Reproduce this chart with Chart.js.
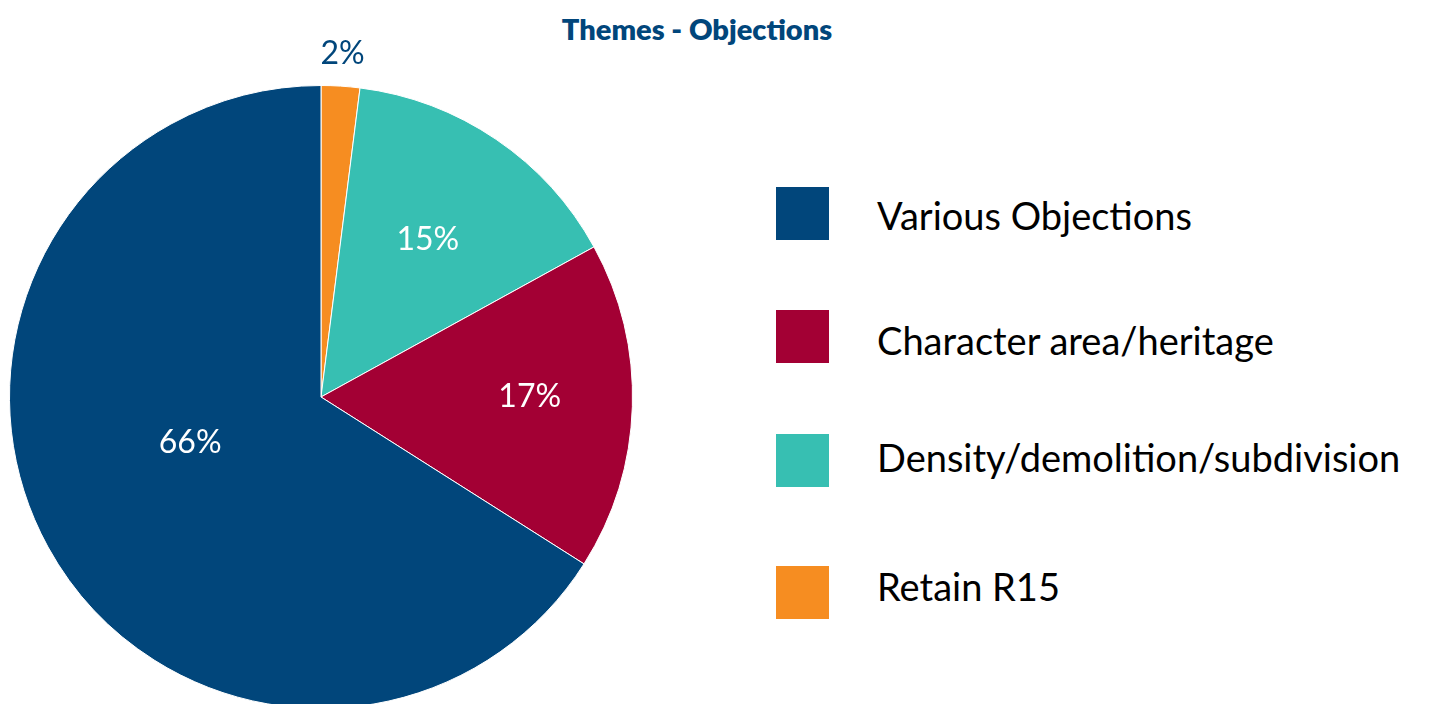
<!DOCTYPE html>
<html>
<head>
<meta charset="utf-8">
<script src="https://cdn.jsdelivr.net/npm/chart.js@4/dist/chart.umd.min.js"></script>
<style>
  html, body { margin: 0; padding: 0; background: #fff; overflow: hidden; }
  #wrap { position: relative; width: 1431px; height: 704px; overflow: hidden; font-family: Lato, "Open Sans", sans-serif; }
  #title { position: absolute; left: 0; width: 1394px; top: 11px; text-align: center; font-weight: 800; font-size: 29px; color: #01467B; }
  #chartBox { position: absolute; left: 0; top: 40px; width: 642px; height: 669px; }
  #legend { position: absolute; left: 776px; top: 0; }
  .box { position: absolute; left: 0; width: 53px; height: 53px; }
  .txt { position: absolute; left: 101px; font-size: 38px; color: #000; line-height: 53px; white-space: nowrap; }
</style>
</head>
<body>
<div id="wrap">
  <div id="title">Themes - Objections</div>
  <div id="chartBox"><canvas id="c"></canvas></div>
  <div id="legend"></div>
</div>
<script>
// Legend order
const categories = ["Various Objections", "Character area/heritage", "Density/demolition/subdivision", "Retain R15"];
const values = [66, 17, 15, 2];
const colors = ["#01467B", "#A30034", "#37BFB2", "#F68D21"];
const labelColors = ["#ffffff", "#ffffff", "#ffffff", "#01467B"];

// Legend layout
const legendBoxTops = [187, 310, 434, 566];
const legendTextTops = [189, 314, 431, 560];
const legend = document.getElementById('legend');
categories.forEach((c, i) => {
  const b = document.createElement('div');
  b.className = 'box';
  b.style.top = legendBoxTops[i] + 'px';
  b.style.background = colors[i];
  legend.appendChild(b);
  const t = document.createElement('div');
  t.className = 'txt';
  t.style.top = legendTextTops[i] + 'px';
  t.textContent = c;
  legend.appendChild(t);
});

// Pie drawn clockwise from top: Retain, Density, Character, Various
const pieLabels = categories.slice().reverse();
const pieValues = values.slice().reverse();
const pieColors = colors.slice().reverse();
const pieLabelColors = labelColors.slice().reverse();
// label placement: radial fraction and angle shift (degrees) per slice (pie order)
const labelPlace = [{f: 1.105, d: 0}, {f: 0.61, d: 0}, {f: 0.67, d: -2}, {f: 0.445, d: 9.5}];

const sliceLabels = {
  id: 'sliceLabels',
  afterDatasetsDraw(chart) {
    const ctx = chart.ctx;
    const meta = chart.getDatasetMeta(0);
    ctx.save();
    ctx.font = '32px Lato, "Open Sans", sans-serif';
    ctx.textAlign = 'center';
    ctx.textBaseline = 'middle';
    meta.data.forEach((arc, i) => {
      const p = arc.getProps(['x', 'y', 'startAngle', 'endAngle', 'outerRadius'], true);
      const mid = (p.startAngle + p.endAngle) / 2 + labelPlace[i].d * Math.PI / 180;
      const r = p.outerRadius * labelPlace[i].f;
      ctx.fillStyle = pieLabelColors[i];
      ctx.fillText(pieValues[i] + '%', p.x + Math.cos(mid) * r, p.y + Math.sin(mid) * r);
    });
    ctx.restore();
  }
};

new Chart(document.getElementById('c'), {
  type: 'pie',
  data: {
    labels: pieLabels,
    datasets: [{
      data: pieValues,
      backgroundColor: pieColors,
      borderColor: '#ffffff',
      borderWidth: 1
    }]
  },
  options: {
    responsive: true,
    maintainAspectRatio: false,
    animation: false,
    layout: { padding: { top: 45, left: 0, right: 0, bottom: 0 } },
    plugins: {
      legend: { display: false },
      tooltip: { enabled: false },
      title: { display: false }
    }
  },
  plugins: [sliceLabels]
});
</script>
</body>
</html>
